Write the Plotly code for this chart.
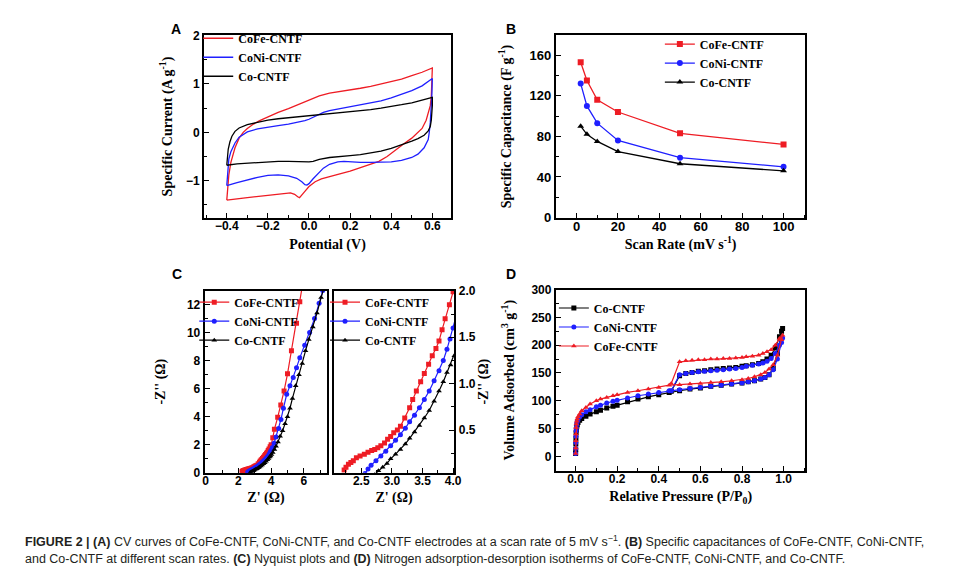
import plotly.graph_objects as go

W, H = 962, 573
RED = '#ee1c24'
BLUE = '#1f1fff'
BLACK = '#000000'
SERIF = 'Liberation Serif'
SANS = 'Liberation Sans'

# ---------------- Panel A: CV curves (anodic sweep then cathodic sweep) ----------------
cv_v_cofe = [-0.40, -0.395, -0.39, -0.38, -0.37, -0.36, -0.34, -0.32, -0.30, -0.27, -0.24, -0.20, -0.15, -0.10, -0.05,
             0.00, 0.05, 0.10, 0.15, 0.20, 0.25, 0.30, 0.35, 0.40, 0.45, 0.50, 0.55, 0.60,
             0.598, 0.595, 0.59, 0.58, 0.57, 0.55, 0.52, 0.50, 0.46, 0.42, 0.38, 0.34, 0.30, 0.25, 0.20, 0.15,
             0.10, 0.06, 0.03, 0.00, -0.02, -0.035, -0.046, -0.055, -0.07, -0.09, -0.12, -0.20, -0.30, -0.40]
cv_i_cofe = [-1.40, -1.10, -0.88, -0.62, -0.45, -0.32, -0.12, 0.00, 0.08, 0.17, 0.24, 0.32, 0.41, 0.49, 0.58,
             0.67, 0.75, 0.81, 0.84, 0.88, 0.91, 0.95, 1.00, 1.05, 1.10, 1.17, 1.24, 1.33,
             1.00, 0.75, 0.55, 0.38, 0.25, 0.08, -0.05, -0.12, -0.24, -0.37, -0.50, -0.60, -0.66, -0.74, -0.80, -0.86,
             -0.91, -0.96, -1.02, -1.12, -1.22, -1.30, -1.35, -1.33, -1.28, -1.25, -1.26, -1.30, -1.35, -1.40]

cv_v_coni = [-0.40, -0.395, -0.39, -0.38, -0.36, -0.34, -0.30, -0.25, -0.20, -0.15, -0.10, -0.05, -0.02,
             0.00, 0.02, 0.04, 0.07, 0.10, 0.15, 0.20, 0.25, 0.30, 0.35, 0.40, 0.45, 0.50, 0.55, 0.58, 0.60,
             0.598, 0.595, 0.59, 0.585, 0.58, 0.56, 0.53, 0.50, 0.45, 0.40, 0.35, 0.30, 0.25, 0.20, 0.17, 0.14,
             0.10, 0.07, 0.04, 0.02, 0.00, -0.01, -0.02, -0.035, -0.06, -0.10, -0.15, -0.20, -0.25, -0.30, -0.35, -0.40]
cv_i_coni = [-1.10, -0.75, -0.55, -0.40, -0.22, -0.10, 0.01, 0.07, 0.11, 0.14, 0.17, 0.21, 0.24,
             0.27, 0.31, 0.36, 0.41, 0.45, 0.49, 0.52, 0.56, 0.60, 0.65, 0.71, 0.78, 0.86, 0.96, 1.04, 1.11,
             0.80, 0.50, 0.20, 0.00, -0.15, -0.32, -0.45, -0.52, -0.58, -0.61, -0.62, -0.62, -0.62, -0.61, -0.60, -0.61,
             -0.66, -0.74, -0.86, -0.96, -1.06, -1.09, -1.08, -1.02, -0.95, -0.90, -0.88, -0.89, -0.93, -0.98, -1.04, -1.10]

cv_v_co = [-0.40, -0.397, -0.393, -0.385, -0.375, -0.36, -0.34, -0.30, -0.25, -0.20, -0.15, -0.10, -0.05,
           0.00, 0.05, 0.10, 0.15, 0.20, 0.25, 0.30, 0.35, 0.40, 0.45, 0.50, 0.55, 0.60,
           0.60, 0.598, 0.595, 0.59, 0.58, 0.56, 0.53, 0.50, 0.45, 0.40, 0.35, 0.30, 0.25, 0.20, 0.15,
           0.10, 0.05, 0.02, 0.00, -0.05, -0.10, -0.15, -0.20, -0.25, -0.30, -0.35, -0.40]
cv_i_co = [-0.68, -0.50, -0.35, -0.20, -0.08, 0.02, 0.09, 0.16, 0.21, 0.25, 0.28, 0.30, 0.32,
           0.34, 0.36, 0.38, 0.40, 0.42, 0.44, 0.47, 0.50, 0.53, 0.57, 0.61, 0.66, 0.72,
           0.55, 0.40, 0.25, 0.12, 0.03, -0.06, -0.13, -0.18, -0.26, -0.33, -0.39, -0.43, -0.46, -0.48, -0.50,
           -0.52, -0.56, -0.60, -0.61, -0.60, -0.60, -0.60, -0.61, -0.62, -0.63, -0.65, -0.68]

# ---------------- Panel B: specific capacitance vs scan rate ----------------
scan_rate = [2, 5, 10, 20, 50, 100]
cap_cofe = [153, 135, 116, 104, 83, 72]
cap_coni = [132, 110, 93, 76, 59, 50]
cap_co = [90, 82, 75, 65, 53, 46]

# ---------------- Panel C: Nyquist plots ----------------
zre_cofe = [2.22, 2.25, 2.29, 2.33, 2.37, 2.42, 2.48, 2.55, 2.61, 2.67, 2.72, 2.77, 2.82, 2.88, 2.93, 2.98,
            3.03, 3.09, 3.14, 3.21, 3.29, 3.34, 3.40, 3.47, 3.53, 3.60, 3.66, 3.72, 3.77, 3.82, 3.87, 3.94,
            4.00, 4.10, 4.20, 4.40, 4.59, 4.79, 5.00, 5.24, 5.55, 5.75, 5.90]
zim_cofe = [0.07, 0.10, 0.13, 0.15, 0.17, 0.20, 0.22, 0.24, 0.26, 0.28, 0.29, 0.31, 0.33, 0.36, 0.40, 0.43,
            0.47, 0.50, 0.54, 0.63, 0.74, 0.83, 0.92, 1.02, 1.11, 1.21, 1.30, 1.38, 1.46, 1.58, 1.70, 1.85,
            1.99, 2.50, 3.10, 3.95, 4.83, 5.84, 7.06, 8.70, 10.67, 12.20, 13.30]

zre_coni = [2.56, 2.61, 2.66, 2.74, 2.82, 2.90, 2.98, 3.06, 3.14, 3.22, 3.29, 3.37, 3.45, 3.53, 3.61, 3.69,
            3.77, 3.84, 3.90, 3.95, 4.00, 4.08, 4.18, 4.30, 4.46, 4.60, 4.75, 4.95, 5.15, 5.35, 5.55, 5.75,
            6.05, 6.35, 6.65, 6.93, 7.15, 7.30]
zim_coni = [0.03, 0.08, 0.12, 0.17, 0.22, 0.27, 0.33, 0.39, 0.45, 0.52, 0.59, 0.66, 0.74, 0.83, 0.92, 1.03,
            1.14, 1.25, 1.37, 1.48, 1.60, 1.80, 2.10, 2.55, 3.15, 3.80, 4.60, 5.60, 6.20, 6.80, 7.50, 8.20,
            9.10, 10.00, 11.00, 12.10, 13.00, 13.50]

zre_co = [2.72, 2.78, 2.85, 2.92, 2.98, 3.06, 3.14, 3.22, 3.29, 3.37, 3.45, 3.53, 3.61, 3.69, 3.77, 3.84,
          3.90, 3.96, 4.02, 4.10, 4.20, 4.30, 4.42, 4.55, 4.70, 4.85, 5.00, 5.15, 5.30, 5.50, 5.70, 5.90,
          6.10, 6.30, 6.55, 6.80, 7.05, 7.25]
zim_co = [0.02, 0.06, 0.10, 0.14, 0.19, 0.24, 0.29, 0.35, 0.41, 0.48, 0.55, 0.63, 0.71, 0.81, 0.92, 1.02,
          1.12, 1.20, 1.30, 1.45, 1.65, 1.88, 2.20, 2.60, 3.00, 3.50, 4.00, 4.60, 5.30, 6.20, 7.00, 7.80,
          8.70, 9.50, 10.40, 11.40, 12.50, 13.30]

# ---------------- Panel D: N2 adsorption-desorption isotherms ----------------
p_ads = [0.0005, 0.001, 0.0015, 0.002, 0.003, 0.004, 0.006, 0.008, 0.012, 0.02, 0.03, 0.05, 0.07, 0.10, 0.12,
         0.15, 0.18, 0.20, 0.25, 0.30, 0.35, 0.40, 0.45, 0.50, 0.55, 0.60, 0.65, 0.70, 0.75, 0.80, 0.83, 0.86,
         0.89, 0.91, 0.93, 0.95, 0.97, 0.99]
p_des = [0.995, 0.98, 0.96, 0.94, 0.92, 0.90, 0.88, 0.85, 0.82, 0.80, 0.77, 0.74, 0.71, 0.68, 0.65, 0.62,
         0.59, 0.56, 0.53, 0.50, 0.46]
v_ads_co = [5, 12, 22, 32, 42, 48, 53, 57, 61, 65, 68, 72, 76, 80, 83, 87, 90, 92, 98, 103, 107, 111, 115, 118,
            121, 123, 126, 128, 130, 132, 134, 136, 139, 142, 147, 158, 185, 225]
v_des_co = [230, 215, 195, 182, 175, 170, 167, 165, 163, 162, 160, 159, 158, 157, 156, 154, 153, 151, 149, 145, 117]
v_ads_coni = [5, 14, 25, 36, 46, 52, 58, 62, 66, 71, 75, 80, 84, 89, 92, 96, 99, 101, 105, 109, 112, 115, 118, 120,
              122, 124, 126, 128, 130, 132, 134, 136, 139, 142, 147, 156, 175, 205]
v_des_coni = [213, 200, 185, 176, 171, 168, 166, 164, 162, 160, 158, 157, 156, 155, 154, 153, 152, 151, 149, 147, 118]
v_ads_cofe = [5, 15, 28, 40, 52, 58, 63, 67, 71, 76, 82, 88, 94, 100, 103, 106, 109, 111, 115, 118, 121, 124, 128,
              129, 130, 131, 133, 134, 136, 138, 140, 143, 147, 151, 157, 165, 182, 210]
v_des_cofe = [218, 212, 200, 192, 188, 185, 182, 180, 179, 178, 177, 176, 176, 175, 175, 174, 174, 173, 172, 170, 131]

names = ['CoFe-CNTF', 'CoNi-CNTF', 'Co-CNTF']


def fx(px):
    return px / W


def fy(py):
    return 1 - py / H


fig = go.Figure()

# Panel A
for v, i, n, c in [(cv_v_cofe, cv_i_cofe, names[0], RED), (cv_v_coni, cv_i_coni, names[1], BLUE),
                   (cv_v_co, cv_i_co, names[2], BLACK)]:
    fig.add_trace(go.Scatter(x=v, y=i, name=n, mode='lines', line=dict(color=c, width=1.3),
                             xaxis='x', yaxis='y', legend='legend'))

# Panel B
for y, n, c, s in [(cap_cofe, names[0], RED, 'square'), (cap_coni, names[1], BLUE, 'circle'),
                   (cap_co, names[2], BLACK, 'triangle-up')]:
    fig.add_trace(go.Scatter(x=scan_rate, y=y, name=n, mode='lines+markers', line=dict(color=c, width=1.3),
                             marker=dict(symbol=s, size=6, color=c), xaxis='x2', yaxis='y2', legend='legend2'))

# Panel C (left and zoomed right)
for xa, ya, lg in [('x3', 'y3', 'legend3'), ('x4', 'y4', 'legend4')]:
    for x, y, n, c, s in [(zre_cofe, zim_cofe, names[0], RED, 'square'),
                          (zre_coni, zim_coni, names[1], BLUE, 'circle'),
                          (zre_co, zim_co, names[2], BLACK, 'triangle-up')]:
        fig.add_trace(go.Scatter(x=x, y=y, name=n, mode='lines+markers', line=dict(color=c, width=1.2),
                                 marker=dict(symbol=s, size=5, color=c), xaxis=xa, yaxis=ya, legend=lg,
                                 cliponaxis=True))

# Panel D
for va, vd, n, c, s in [(v_ads_co, v_des_co, 'Co-CNTF', BLACK, 'square'),
                        (v_ads_coni, v_des_coni, 'CoNi-CNTF', BLUE, 'circle'),
                        (v_ads_cofe, v_des_cofe, 'CoFe-CNTF', RED, 'triangle-up')]:
    fig.add_trace(go.Scatter(x=p_ads + p_des, y=va + vd, name=n, mode='lines+markers',
                             line=dict(color=c, width=1.2), marker=dict(symbol=s, size=5, color=c),
                             xaxis='x5', yaxis='y5', legend='legend5'))

titlefont = dict(family=SERIF, size=14, color='black', weight='bold')


def axis(domain, rng, dtick, minor_dtick, title, anchor, standoff=4, side=None, tickformat=None,
         labelshift=0, fsize=12):
    d = dict(domain=domain, range=rng, anchor=anchor, showline=True, linecolor='black', linewidth=2,
             mirror=True, ticks='inside', ticklen=5, tickwidth=1.3, tickcolor='black',
             minor=dict(ticks='inside', ticklen=3, tickwidth=1.1, tickcolor='black', dtick=minor_dtick),
             dtick=dtick, tick0=0, showgrid=False, zeroline=False,
             tickfont=dict(family=SANS, size=fsize, color='black', weight='bold'),
             ticklabelstandoff=labelshift,
             title=dict(text=title, font=titlefont, standoff=standoff))
    if side:
        d['side'] = side
    if tickformat:
        d['tickformat'] = tickformat
    return d


dA_x = [fx(196), fx(445)]
dA_y = [fy(208), fy(21)]
dB_x = [fx(551), fx(803)]
dC1_x = [fx(196.5), fx(320.3)]
dC2_x = [fx(326.8), fx(448.5)]
dC_y = [fy(470), fy(283)]
dD_y = [fy(468), fy(282)]

legend_common = dict(bgcolor='rgba(0,0,0,0)', xanchor='left', yanchor='top', tracegroupgap=0,
                     font=dict(family=SERIF, size=12, color='black', weight='bold'))

fig.update_layout(
    width=W, height=H, margin=dict(l=0, r=0, t=0, b=0),
    paper_bgcolor='white', plot_bgcolor='white',
    xaxis=axis(dA_x, [-0.51, 0.69], 0.2, 0.1, 'Potential (V)', 'y', standoff=7, tickformat='.1f',
               labelshift=-4),
    yaxis=axis(dA_y, [-1.76, 2.0], 1, 0.5, 'Specific Current (A g<sup>-1</sup>)', 'x', standoff=10),
    xaxis2=axis(dB_x, [-10, 110.6], 20, 10, 'Scan Rate (mV s<sup>-1</sup>)', 'y2', standoff=6, labelshift=-4,
                fsize=13),
    yaxis2=axis(dA_y, [0, 179.4], 40, 20, 'Specific Capacitance (F g<sup>-1</sup>)', 'x2', standoff=15,
                fsize=13),
    xaxis3=axis(dC1_x, [-0.06, 7.43], 2, 1, "Z' (Ω)", 'y3', standoff=5, labelshift=-4),
    yaxis3=axis(dC_y, [0, 13.0], 2, 1, "-Z'' (Ω)", 'x3', standoff=18),
    xaxis4=axis(dC2_x, [2.05, 4.02], 0.5, 0.25, "Z' (Ω)", 'y4', standoff=5, tickformat='.1f', labelshift=-4),
    yaxis4=axis(dC_y, [0.04, 2.003], 0.5, 0.25, "-Z'' (Ω)", 'x4', standoff=2, side='right',
                tickformat='.1f'),
    xaxis5=axis(dB_x, [-0.0945, 1.105], 0.2, 0.1, 'Relative Pressure (P/P<sub>0</sub>)', 'y5', standoff=6,
                tickformat='.1f', labelshift=-4),
    yaxis5=axis(dD_y, [-26, 300], 50, 25, 'Volume Adsorbed (cm<sup>3</sup> g<sup>-1</sup>)', 'x5',
                standoff=14),
    legend=dict(x=fx(190), y=fy(9), **legend_common),
    legend2=dict(x=fx(656), y=fy(15), **legend_common),
    legend3=dict(x=fx(186), y=fy(280), **legend_common),
    legend4=dict(x=fx(318), y=fy(280), **legend_common),
    legend5=dict(x=fx(549), y=fy(286), **legend_common),
    showlegend=True,
)

# Panel letters
for txt, x, y in [('A', 168, 14), ('B', 506, 14), ('C', 169, 266), ('D', 506, 266)]:
    fig.add_annotation(text=f'<b>{txt}</b>', x=fx(x), y=fy(y), xref='paper', yref='paper', showarrow=False,
                       xanchor='center', yanchor='middle', font=dict(family=SANS, size=14, color='black'))

cap_font = dict(family='Liberation Sans, sans-serif', size=12.5, color='#231f20')
line1 = ('<b>FIGURE 2 | (A)</b> CV curves of CoFe-CNTF, CoNi-CNTF, and Co-CNTF electrodes at a scan rate of '
         '5 mV s<sup>−1</sup>. <b>(B)</b> Specific capacitances of CoFe-CNTF, CoNi-CNTF,')
line2 = ('and Co-CNTF at different scan rates. <b>(C)</b> Nyquist plots and <b>(D)</b> Nitrogen '
         'adsorption-desorption isotherms of CoFe-CNTF, CoNi-CNTF, and Co-CNTF.')
fig.add_annotation(text=line1, x=fx(13), y=fy(540), xref='paper', yref='paper', showarrow=False,
                   xanchor='left', yanchor='middle', font=cap_font)
fig.add_annotation(text=line2, x=fx(13), y=fy(559), xref='paper', yref='paper', showarrow=False,
                   xanchor='left', yanchor='middle', font=cap_font)

fig.write_html('out.html')
